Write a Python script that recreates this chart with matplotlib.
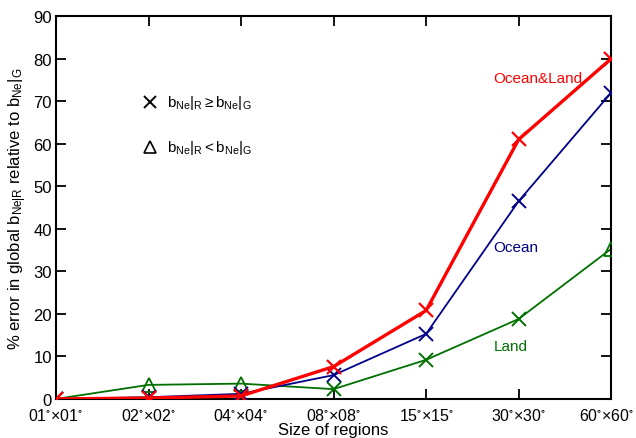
import matplotlib
matplotlib.use("Agg")
import matplotlib.pyplot as plt
import matplotlib.transforms as mtransforms
import numpy as np

plt.rcParams['font.family'] = ['Liberation Sans', 'DejaVu Sans']
plt.rcParams['mathtext.fontset'] = 'custom'
plt.rcParams['mathtext.rm'] = 'Liberation Sans'
plt.rcParams['mathtext.it'] = 'Liberation Sans'

region_sizes = ["01", "02", "04", "08", "15", "30", "60"]
ocean_land = [0.0, 0.2, 0.7, 7.6, 20.8, 61.0, 80.0]
ocean = [0.0, 0.4, 1.2, 5.6, 15.3, 46.5, 72.0]
land = [0.0, 3.3, 3.6, 2.3, 9.2, 18.8, 35.3]
# marker per point for land: 'x' when b_R >= b_G, '^' otherwise
land_markers = ['x', '^', '^', 'x', 'x', 'x', '^']

red = '#ff0000'
blue = '#00008b'
green = '#007000'

tick_labels = [r'$\mathregular{%s^{\circ}{\times}%s^{\circ}}$' % (s, s) for s in region_sizes]

fig = plt.figure(figsize=(6.36, 4.39), dpi=100)
ax = fig.add_axes([0.088, 0.089, 0.873, 0.872])

x = np.arange(len(region_sizes))

ax.plot(x, land, color=green, linewidth=1.3, zorder=2)
for xi, yi, m in zip(x, land, land_markers):
    if m == 'x':
        ax.plot(xi, yi, marker='x', color=green, markersize=10, mew=1.4, zorder=3)
    else:
        ax.plot(xi, yi, marker='^', color=green, markersize=10, mew=1.3,
                markerfacecolor='none', zorder=3)

ax.plot(x, ocean, color=blue, linewidth=1.3, marker='x', markersize=10, mew=1.4, zorder=4)
ax.plot(x, ocean_land, color=red, linewidth=2.4, marker='x', markersize=10, mew=1.6, zorder=5)

ax.text(5.69, 75.5, "Ocean&Land", color=red, fontsize=11, ha='right', va='center')
ax.text(4.73, 35.8, "Ocean", color=blue, fontsize=11, ha='left', va='center')
ax.text(4.73, 12.4, "Land", color=green, fontsize=11, ha='left', va='center')

# symbol key
ax.plot(1.02, 69.8, marker='x', color='black', markersize=9, mew=1.4)
ax.plot(1.02, 59.3, marker='^', color='black', markersize=9, mew=1.2, markerfacecolor='none')
ax.text(1.2, 69.8, r'$\mathregular{b_{Ne}|_R \geq b_{Ne}|_G}$', fontsize=11, va='center')
ax.text(1.2, 59.3, r'$\mathregular{b_{Ne}|_R < b_{Ne}|_G}$', fontsize=11, va='center')

ax.set_xlim(0, 6)
ax.set_ylim(0, 90)
ax.set_xticks(x)
ax.set_xticklabels(tick_labels, fontsize=11.5)
ax.set_yticks(np.arange(0, 91, 10))
ax.tick_params(axis='y', labelsize=12, pad=3)
ax.tick_params(axis='x', pad=6)
ax.tick_params(direction='in', length=7, width=1.3, top=True, right=True)
for s in ax.spines.values():
    s.set_linewidth(1.5)

# nudge the last tick label so it stays inside the figure
last = ax.get_xticklabels()[-1]
last.set_transform(last.get_transform() + mtransforms.ScaledTranslation(-5 / 100, 0, fig.dpi_scale_trans))

ax.set_xlabel("Size of regions", fontsize=12, labelpad=-1)
ax.set_ylabel(r'% error in global $\mathregular{b_{Ne|R}}$ relative to $\mathregular{b_{Ne}|_G}$',
              fontsize=12, labelpad=3)

fig.savefig("out.png", dpi=100)
